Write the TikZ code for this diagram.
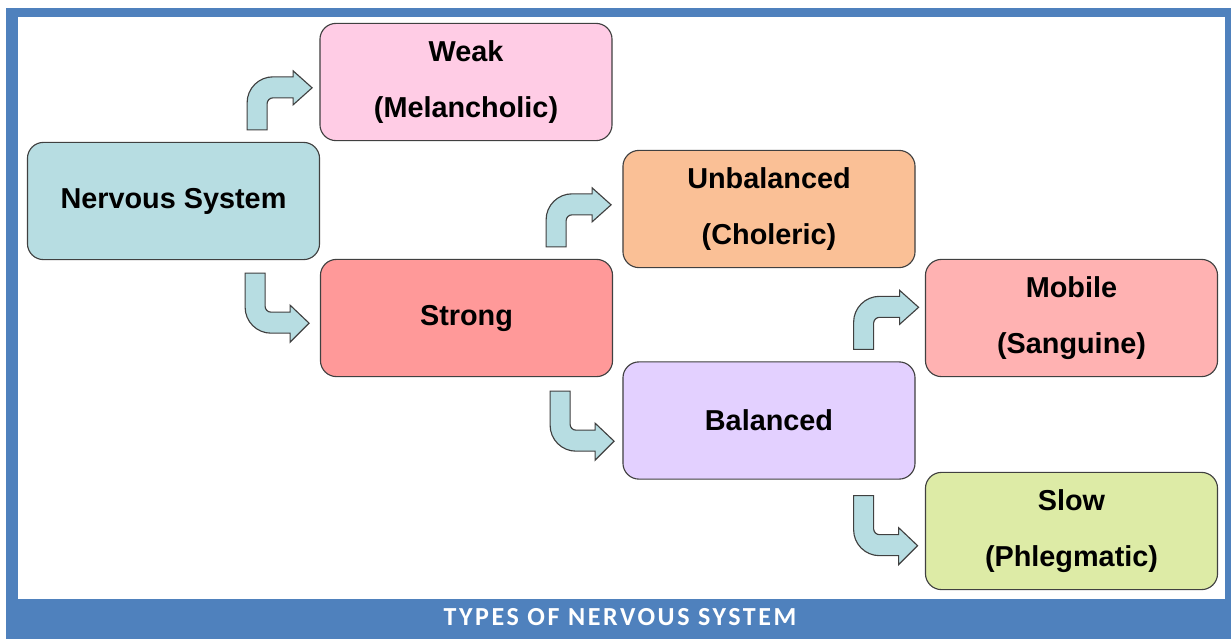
\documentclass[tikz,border=0pt]{standalone}
\usepackage{fontspec}
\setmainfont{Liberation Sans}
\newfontfamily\capfont[LetterSpace=10]{Carlito}
\usepackage{tikz}
\usetikzlibrary{positioning}

\definecolor{frameblue}{RGB}{79,129,189}
\definecolor{nsteal}{RGB}{183,221,226}
\definecolor{weakpink}{RGB}{255,204,229}
\definecolor{unbalorange}{RGB}{250,192,150}
\definecolor{strongred}{RGB}{255,153,153}
\definecolor{balpurple}{RGB}{227,208,255}
\definecolor{mobpink}{RGB}{255,178,178}
\definecolor{slowgreen}{RGB}{221,235,166}
\definecolor{edgegray}{RGB}{64,64,64}

\tikzset{
  typebox/.style={draw=edgegray, line width=0.8pt, rounded corners=0.4cm,
    minimum width=7.3cm, minimum height=2.93cm, inner sep=0pt, align=center,
    font=\fontsize{20.5}{40}\selectfont\bfseries},
  bentarrow/.style={draw=edgegray, fill=nsteal, line width=0.8pt},
  bentup/.pic={
    \path[bentarrow] (0,0) -- (0,-27) .. controls (0,-41.4) and (11.6,-53) .. (26,-53)
      -- (46,-53) -- (46,-59) -- (65,-42) -- (46,-25) -- (46,-32) -- (26,-32)
      .. controls (22.7,-32) and (20,-29.3) .. (20,-26) -- (20,0) -- cycle;
  },
  bentdown/.pic={
    \path[bentarrow] (0,0) -- (20,0) -- (20,33) .. controls (20,36.3) and (22.7,39) .. (26,39)
      -- (45,39) -- (45,32) -- (64,50) -- (45,69) -- (45,60) -- (26,60)
      .. controls (11.6,60) and (0,48.4) .. (0,34) -- cycle;
  }
}

\begin{document}
\begin{tikzpicture}[x=0.025cm,y=-0.025cm]
\useasboundingbox (0,0) rectangle (1231,639);
% frame and caption band
\fill[frameblue] (6,8) rectangle (1231,639);
\fill[white] (18,17) rectangle (1225,599);
\node[text=white, font=\capfont\bfseries\fontsize{18.5}{21}\selectfont] (title) at (620,617) {TYPES OF NERVOUS SYSTEM};

% boxes
\node[typebox, fill=nsteal] (ns) at (173.5,201) {Nervous System};
\node[typebox, fill=weakpink] (weak) at (466,82) {Weak\\(Melancholic)};
\node[typebox, fill=strongred] (strong) at (466.5,318) {Strong};
\node[typebox, fill=unbalorange] (unbal) at (769,209) {Unbalanced\\(Choleric)};
\node[typebox, fill=balpurple] (bal) at (769,420.5) {Balanced};
\node[typebox, fill=mobpink] (mob) at (1071.5,318) {Mobile\\(Sanguine)};
\node[typebox, fill=slowgreen] (slow) at (1071.5,531) {Slow\\(Phlegmatic)};

% bent arrows
\path (ns.north east) ++(-73,-12) pic {bentup};
\path (ns.south east) ++(-75,13) pic {bentdown};
\path (strong.north east) ++(-67,-12) pic {bentup};
\path (strong.south east) ++(-63,14) pic {bentdown};
\path (bal.north east) ++(-62,-12) pic {bentup};
\path (bal.south east) ++(-62,16) pic {bentdown};
\end{tikzpicture}
\end{document}
